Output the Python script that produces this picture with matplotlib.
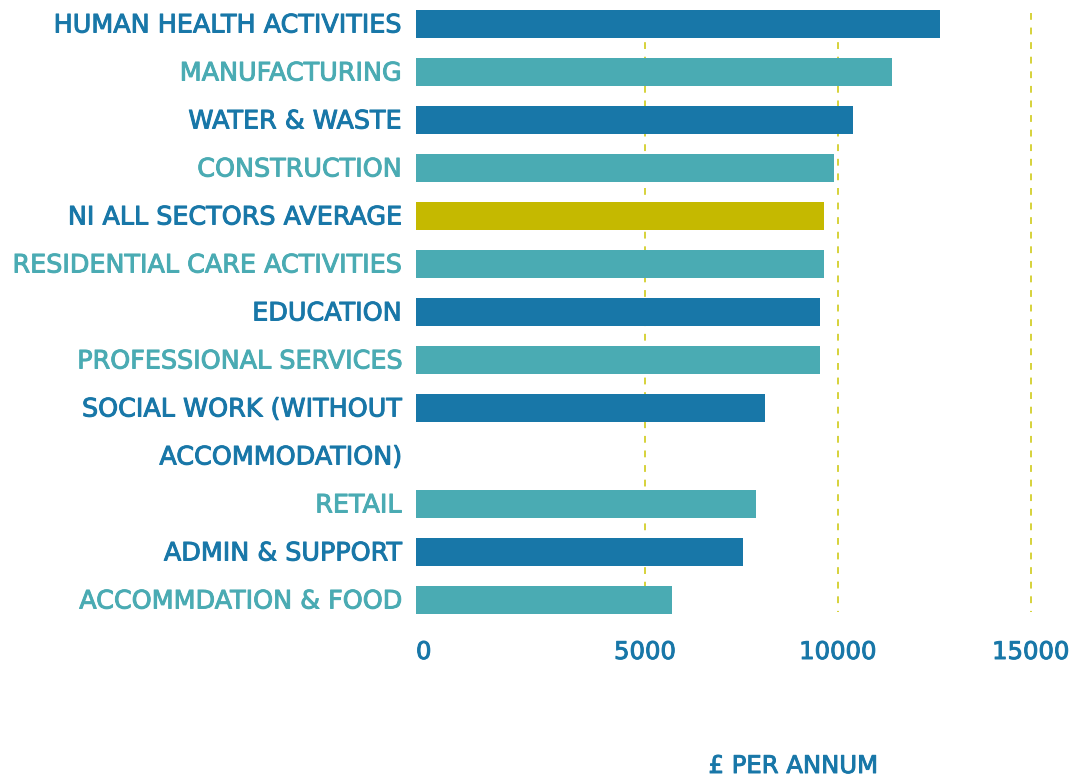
import matplotlib
matplotlib.use("Agg")
import matplotlib.pyplot as plt
import matplotlib.patheffects as pe
from matplotlib.transforms import offset_copy

# --- data ---
categories = [
    "HUMAN HEALTH ACTIVITIES",
    "MANUFACTURING",
    "WATER & WASTE",
    "CONSTRUCTION",
    "NI ALL SECTORS AVERAGE",
    "RESIDENTIAL CARE ACTIVITIES",
    "EDUCATION",
    "PROFESSIONAL SERVICES",
    "SOCIAL WORK (WITHOUT\nACCOMMODATION)",
    "RETAIL",
    "ADMIN & SUPPORT",
    "ACCOMMDATION & FOOD",
]
values = [12650, 11400, 10390, 9900, 9640, 9640, 9540, 9540, 8110, 7880, 7540, 5700]
bar_kind = ["dark", "teal", "dark", "teal", "avg", "teal", "dark", "teal", "dark", "teal", "dark", "teal"]
tick_values = [0, 5000, 10000, 15000]
tick_labels = ["0", "5000", "10000", "15000"]
x_title = "£ PER ANNUM"

# --- style ---
DARK = "#1877a8"
TEAL = "#4aabb3"
AVG = "#c5b900"
GRID = "#d6d23a"
bar_colors = {"dark": DARK, "teal": TEAL, "avg": AVG}
label_colors = {"dark": DARK, "teal": TEAL, "avg": DARK}
FONT = "DejaVu Sans"
FS_LAB = 18.3
FS_TICK = 17.5


def txt_style(color, size):
    # a thin stroke in the same colour gives the medium weight of the original
    return dict(color=color, fontsize=size, family=FONT,
                path_effects=[pe.withStroke(linewidth=0.7, foreground=color)])


W, H = 1073, 776
fig = plt.figure(figsize=(W / 100, H / 100), dpi=100)
# axes spans pixel x 416..1073, y 0..624 (13 rows of 48px)
ax = fig.add_axes([416 / W, (H - 624) / H, (W - 416) / W, 624 / H])

xmin, xmax = -937, 16097
ax.set_xlim(xmin, xmax)

# each label takes as many rows as it has lines
rows = []
r = 0
for c in categories:
    rows.append(r)
    r += c.count("\n") + 1
n_rows = r
ax.set_ylim(n_rows - 0.5, -0.5)

# dashed gridlines
ax.vlines(tick_values[1:], -0.23, n_rows - 0.75, colors=GRID, linestyles=(0, (3.5, 4)),
          linewidth=1.4, zorder=1)

ax.barh(rows, [v - xmin for v in values], left=xmin, height=0.58,
        color=[bar_colors[k] for k in bar_kind], zorder=2)

lab_tr = offset_copy(ax.get_yaxis_transform(), fig=fig, x=-14.5, y=-1.5, units="dots")
for c, y, k in zip(categories, rows, bar_kind):
    for i, line in enumerate(c.split("\n")):
        ax.text(0, y + i, line, transform=lab_tr, ha="right", va="center",
                **txt_style(label_colors[k], FS_LAB))

tick_tr = ax.get_xaxis_transform()
for v, t in zip(tick_values, tick_labels):
    if v == 0:
        ax.text(xmin, -28 / 624, t, transform=tick_tr, ha="left", va="center",
                **txt_style(DARK, FS_TICK))
    else:
        ax.text(v, -28 / 624, t, transform=tick_tr, ha="center", va="center",
                **txt_style(DARK, FS_TICK))

fig.text(793 / W, 1 - 766 / H, x_title, ha="center", va="center", **txt_style(DARK, FS_TICK))

ax.axis("off")
fig.savefig("out.png", dpi=100)
